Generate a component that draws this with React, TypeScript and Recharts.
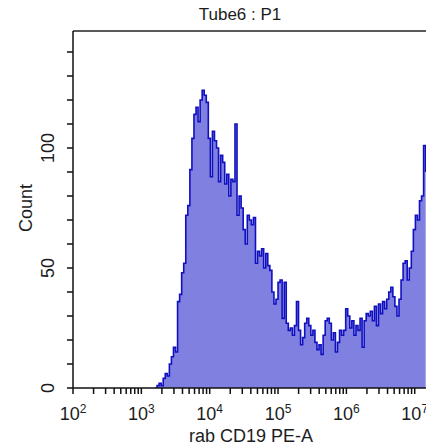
import { AreaChart, Area, XAxis, YAxis, ReferenceLine } from "recharts";

// histogram bins on a log10 scale
const BIN_START = 3.2;
const BIN_WIDTH = 0.03;

const COUNTS = [
  0, 1, 2, 1, 4, 6, 5, 10, 13, 17,
  15, 36, 39, 48, 52, 72, 76, 91, 104, 114,
  117, 111, 120, 124, 122, 119, 104, 88, 107, 103,
  100, 86, 97, 94, 85, 89, 80, 87, 86, 110,
  72, 80, 75, 66, 60, 72, 70, 68, 71, 52,
  57, 55, 58, 50, 56, 51, 49, 40, 35, 37,
  44, 45, 29, 44, 27, 24, 25, 22, 26, 36,
  24, 18, 21, 27, 29, 26, 22, 24, 19, 16,
  18, 14, 22, 28, 29, 27, 20, 23, 15, 19,
  24, 22, 24, 33, 30, 25, 28, 22, 26, 24,
  29, 17, 28, 31, 30, 32, 28, 34, 26, 35,
  31, 36, 33, 37, 40, 42, 38, 34, 30, 37,
  45, 52, 53, 45, 50, 57, 66, 72, 70, 78,
  80, 101, 90,
];

const DECADES = [2, 3, 4, 5, 6, 7];
const MINOR_STEPS = [2, 3, 4, 5, 6, 7, 8, 9];
const X_MAX = 7.165;

const Y_TICKS = [0, 10, 20, 30, 40, 50, 60, 70, 80, 90, 100, 110, 120, 130, 140];
const Y_LABELS = [0, 50, 100];
const Y_MAX = 148.75;

const FONT = "'Liberation Sans', Arial, sans-serif";
const TEXT = "#1c1c1c";

const data = COUNTS.map((count, i) => ({
  x: +(BIN_START + i * BIN_WIDTH).toFixed(3),
  count,
}));

const xTicks: number[] = [];
DECADES.forEach((d) => {
  xTicks.push(d);
  MINOR_STEPS.forEach((m) => {
    const v = d + Math.log10(m);
    if (v < X_MAX) xTicks.push(+v.toFixed(4));
  });
});

function XTick(props: any) {
  const { x, payload } = props;
  if (!DECADES.includes(payload.value)) return <g />;
  return (
    <text x={x} y={420} textAnchor="middle" fontFamily={FONT} fontSize={18} fill={TEXT}>
      <tspan>10</tspan>
      <tspan dy={-7} fontSize={12}>{payload.value}</tspan>
    </text>
  );
}

function YTick(props: any) {
  const { y, payload } = props;
  if (!Y_LABELS.includes(payload.value)) return <g />;
  return (
    <text
      x={54}
      y={y}
      transform={`rotate(-90 54 ${y})`}
      textAnchor="middle"
      fontFamily={FONT}
      fontSize={18}
      fill={TEXT}
    >
      {payload.value}
    </text>
  );
}

export default function App() {
  return (
    <div style={{ position: "absolute", left: 0, top: 0, width: 426, height: 447, background: "#fff" }}>
      <div
        style={{
          position: "absolute",
          left: 0,
          top: 5,
          width: 480,
          textAlign: "center",
          fontFamily: FONT,
          fontSize: 17,
          color: TEXT,
          lineHeight: "20px",
        }}
      >
        Tube6 : P1
      </div>
      <AreaChart
        width={426}
        height={447}
        data={data}
        margin={{ top: 31, right: 0, left: 0, bottom: 1 }}
      >
        <XAxis
          type="number"
          dataKey="x"
          domain={[2, X_MAX]}
          allowDataOverflow
          ticks={xTicks}
          interval={0}
          tickSize={6}
          height={58}
          axisLine={{ stroke: "#111", strokeWidth: 1.5 }}
          tickLine={{ stroke: "#111", strokeWidth: 1.5 }}
          tick={XTick}
          label={{
            content: () => (
              <text x={251} y={442} textAnchor="middle" fontFamily={FONT} fontSize={18} fill={TEXT}>
                rab CD19 PE-A
              </text>
            ),
          }}
        />
        <YAxis
          type="number"
          domain={[0, Y_MAX]}
          allowDataOverflow
          ticks={Y_TICKS}
          interval={0}
          tickSize={6}
          width={73}
          axisLine={{ stroke: "#111", strokeWidth: 1.5 }}
          tickLine={{ stroke: "#111", strokeWidth: 1.5 }}
          tick={YTick}
          label={{
            content: () => (
              <text
                x={32}
                y={208}
                transform="rotate(-90 32 208)"
                textAnchor="middle"
                fontFamily={FONT}
                fontSize={18}
                fill={TEXT}
              >
                Count
              </text>
            ),
          }}
        />
        <ReferenceLine y={Y_MAX} stroke="#222" strokeWidth={1.5} />
        <Area
          type="stepAfter"
          dataKey="count"
          stroke="#1010c0"
          strokeWidth={1.6}
          fill="#8080e0"
          fillOpacity={1}
          dot={false}
          activeDot={false}
          isAnimationActive={false}
        />
      </AreaChart>
    </div>
  );
}
